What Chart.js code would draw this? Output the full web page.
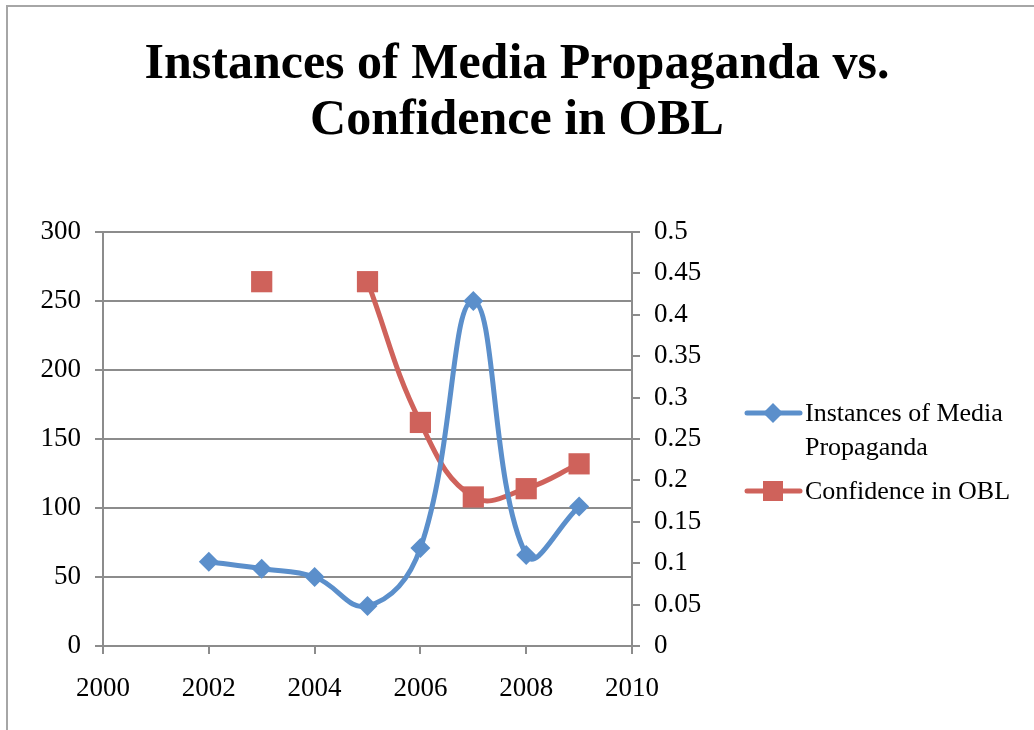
<!DOCTYPE html>
<html>
<head>
<meta charset="utf-8">
<script src="https://cdn.jsdelivr.net/npm/chart.js@4.4.1/dist/chart.umd.min.js"></script>
<style>
  html, body { margin: 0; padding: 0; background: #fff; overflow: hidden; }
  #wrap { position: relative; width: 1034px; height: 730px; }
  #frame { position: absolute; left: 6px; top: 5px; width: 1100px; height: 800px; border: 2px solid #a6a6a6; box-sizing: border-box; pointer-events: none; }
  canvas { position: absolute; left: 0; top: 0; }
</style>
</head>
<body>
<div id="wrap">
  <canvas id="c" width="1034" height="730"></canvas>
  <div id="frame"></div>
</div>
<script>
const titleLines = ["Instances of Media Propaganda vs.", "Confidence in OBL"];
const years = [2002, 2003, 2004, 2005, 2006, 2007, 2008, 2009];
const propaganda = [61, 56, 50, 29, 71, 250, 66, 101];
const confidence = [null, 0.44, null, 0.44, 0.27, 0.18, 0.19, 0.22];
const seriesNames = ["Instances of Media Propaganda", "Confidence in OBL"];
const legendLines = [["Instances of Media", "Propaganda"], ["Confidence in OBL"]];
const xTicks = [2000, 2002, 2004, 2006, 2008, 2010];

const BLUE = '#5b8fcb';
const RED = '#cf625b';
const GRID = '#8c8c8c';
const FONT = "'Liberation Serif', 'Times New Roman', serif";

const toPts = (vals) => years.map((y, i) => ({ x: y, y: vals[i] }));

const legendPlugin = {
  id: 'customLegend',
  afterDraw(chart) {
    const ctx = chart.ctx;
    ctx.save();
    const items = [
      { color: BLUE, style: 'rectRot', lines: legendLines[0], y: 413 },
      { color: RED, style: 'rect', lines: legendLines[1], y: 491 }
    ];
    items.forEach(it => {
      ctx.strokeStyle = it.color;
      ctx.lineWidth = 5;
      ctx.lineCap = 'round';
      ctx.beginPath();
      ctx.moveTo(747, it.y);
      ctx.lineTo(800, it.y);
      ctx.stroke();
      ctx.fillStyle = it.color;
      if (it.style === 'rect') {
        ctx.fillRect(763, it.y - 10, 20, 20);
      } else {
        ctx.beginPath();
        ctx.moveTo(773, it.y - 10);
        ctx.lineTo(783, it.y);
        ctx.lineTo(773, it.y + 10);
        ctx.lineTo(763, it.y);
        ctx.closePath();
        ctx.fill();
      }
      ctx.fillStyle = '#000';
      ctx.font = '26px ' + FONT;
      ctx.textBaseline = 'middle';
      ctx.textAlign = 'left';
      it.lines.forEach((t, k) => ctx.fillText(t, 805, it.y + 1 + k * 34));
    });
    ctx.restore();
  }
};

new Chart(document.getElementById('c'), {
  type: 'line',
  data: {
    datasets: [
      {
        label: seriesNames[0],
        data: toPts(propaganda),
        yAxisID: 'y',
        borderColor: BLUE,
        backgroundColor: BLUE,
        borderWidth: 5,
        tension: 0.42,
        pointStyle: 'rectRot',
        pointRadius: 10,
        pointBorderWidth: 0,
        pointBackgroundColor: BLUE,
        spanGaps: false
      },
      {
        label: seriesNames[1],
        data: toPts(confidence),
        yAxisID: 'y2',
        borderColor: RED,
        backgroundColor: RED,
        borderWidth: 5,
        tension: 0.42,
        pointStyle: 'rect',
        pointRadius: 15,
        pointBorderWidth: 0,
        pointBackgroundColor: RED,
        spanGaps: false
      }
    ]
  },
  options: {
    responsive: false,
    animation: false,
    layout: { padding: { left: 0, right: 0, top: 0, bottom: 0 } },
    plugins: {
      legend: { display: false },
      tooltip: { enabled: false },
      title: {
        display: true,
        text: titleLines,
        color: '#000',
        font: { family: FONT, size: 50, weight: 'bold', lineHeight: 1.12 },
        padding: { top: 37, bottom: 83 }
      }
    },
    scales: {
      x: {
        type: 'linear',
        min: 2000,
        max: 2010,
        afterBuildTicks: (s) => { s.ticks = xTicks.map(v => ({ value: v })); },
        afterFit: (s) => { s.height = 84; },
        ticks: { color: '#000', font: { family: FONT, size: 27 }, padding: 19, callback: v => String(v) },
        grid: { drawOnChartArea: false, color: GRID, lineWidth: 2, tickLength: 8 },
        border: { color: GRID, width: 2 }
      },
      y: {
        position: 'left',
        min: 0,
        max: 300,
        ticks: { stepSize: 50, color: '#000', font: { family: FONT, size: 27 }, padding: 14 },
        afterFit: (s) => { s.width = 103; },
        grid: { color: GRID, lineWidth: 2, tickLength: 8 },
        border: { color: GRID, width: 2 }
      },
      y2: {
        position: 'right',
        min: 0,
        max: 0.5,
        ticks: {
          stepSize: 0.05, color: '#000', font: { family: FONT, size: 27 }, padding: 14,
          callback: v => String(Number(v.toFixed(2)))
        },
        afterFit: (s) => { s.width = 402; },
        grid: { drawOnChartArea: false, color: GRID, lineWidth: 2, tickLength: 8 },
        border: { color: GRID, width: 2 }
      }
    }
  },
  plugins: [legendPlugin]
});
</script>
</body>
</html>
